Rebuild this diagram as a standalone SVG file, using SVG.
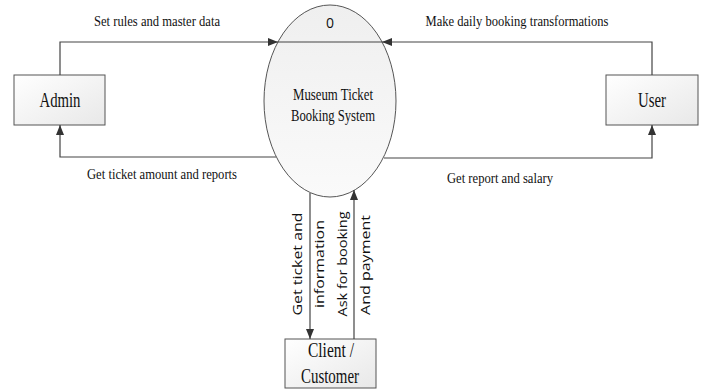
<svg xmlns="http://www.w3.org/2000/svg" width="703" height="389" viewBox="0 0 703 389">
<defs>
<linearGradient id="boxg" x1="0" y1="0" x2="1" y2="1">
<stop offset="0" stop-color="#ffffff"/>
<stop offset="1" stop-color="#e8e8e8"/>
</linearGradient>
<linearGradient id="ellg" x1="0" y1="0" x2="0" y2="1">
<stop offset="0" stop-color="#efefef"/>
<stop offset="1" stop-color="#fafafa"/>
</linearGradient>
<marker id="ah" markerWidth="11" markerHeight="9" refX="10" refY="4" orient="auto" markerUnits="userSpaceOnUse">
<path d="M0,0 L10,4 L0,8 z" fill="#333"/>
</marker>
</defs>
<style>
.box{fill:url(#boxg);stroke:#555;stroke-width:1}
.serif{font-family:'Liberation Serif','DejaVu Serif',serif;fill:#111}
.sans{font-family:'Open Sans','DejaVu Sans',sans-serif;fill:#111}
.conn{fill:none;stroke:#444;stroke-width:1.2;marker-end:url(#ah)}
</style>
<rect width="703" height="389" fill="#fff"/>
<g id="process">
<ellipse cx="330" cy="101" rx="66" ry="96" fill="url(#ellg)" stroke="#555" stroke-width="1"/>
<line x1="278" y1="42" x2="382" y2="42" stroke="#444" stroke-width="1.2"/>
<text class="sans" x="330" y="28" font-size="14" text-anchor="middle">0</text>
<text class="serif" x="333" y="100" font-size="16" text-anchor="middle" textLength="80" lengthAdjust="spacingAndGlyphs">Museum Ticket</text>
<text class="serif" x="333" y="121" font-size="16" text-anchor="middle" textLength="84" lengthAdjust="spacingAndGlyphs">Booking System</text>
</g>
<g id="admin">
<rect class="box" x="14" y="75" width="91" height="50"/>
<text class="serif" x="60" y="107" font-size="21" text-anchor="middle" textLength="41" lengthAdjust="spacingAndGlyphs">Admin</text>
</g>
<g id="user">
<rect class="box" x="606" y="75" width="92" height="50"/>
<text class="serif" x="652" y="107" font-size="21" text-anchor="middle" textLength="28" lengthAdjust="spacingAndGlyphs">User</text>
</g>
<g id="client">
<rect class="box" x="285" y="339" width="91" height="49"/>
<text class="serif" x="331" y="357" font-size="21" text-anchor="middle" textLength="46" lengthAdjust="spacingAndGlyphs">Client /</text>
<text class="serif" x="330" y="383" font-size="21" text-anchor="middle" textLength="58" lengthAdjust="spacingAndGlyphs">Customer</text>
</g>
<g id="connectors">
<polyline class="conn" points="60,75 60,42 278,42"/>
<polyline class="conn" points="276,157 60,157 60,125"/>
<polyline class="conn" points="652,75 652,42 382,42"/>
<polyline class="conn" points="384,158 652,158 652,125"/>
<polyline class="conn" points="310,193 310,339"/>
<polyline class="conn" points="354,339 354,190"/>
</g>
<g id="labels">
<text class="serif" x="157" y="26" font-size="15" text-anchor="middle" textLength="126" lengthAdjust="spacingAndGlyphs">Set rules and master data</text>
<text class="serif" x="162" y="179" font-size="15" text-anchor="middle" textLength="150" lengthAdjust="spacingAndGlyphs">Get ticket amount and reports</text>
<text class="serif" x="517" y="26" font-size="15" text-anchor="middle" textLength="183" lengthAdjust="spacingAndGlyphs">Make daily booking transformations</text>
<text class="serif" x="500" y="183" font-size="15" text-anchor="middle" textLength="106" lengthAdjust="spacingAndGlyphs">Get report and salary</text>
<text class="sans" transform="translate(297,264) rotate(-90)" font-size="12.5" text-anchor="middle" dominant-baseline="central" textLength="103" lengthAdjust="spacingAndGlyphs">Get ticket and</text>
<text class="sans" transform="translate(319,264) rotate(-90)" font-size="12.5" text-anchor="middle" dominant-baseline="central" textLength="88" lengthAdjust="spacingAndGlyphs">information</text>
<text class="sans" transform="translate(342,264) rotate(-90)" font-size="12.5" text-anchor="middle" dominant-baseline="central" textLength="105" lengthAdjust="spacingAndGlyphs">Ask for booking</text>
<text class="sans" transform="translate(365,265) rotate(-90)" font-size="12.5" text-anchor="middle" dominant-baseline="central" textLength="100" lengthAdjust="spacingAndGlyphs">And payment</text>
</g>
</svg>
